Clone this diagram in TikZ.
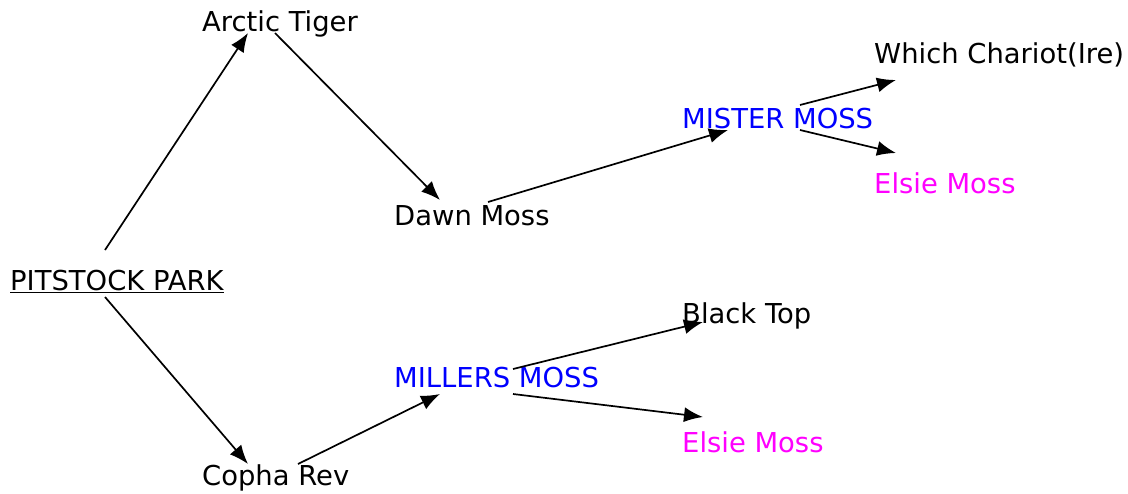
\documentclass[tikz,border=0pt]{standalone}
\usepackage{fontspec}
\setmainfont{DejaVu Sans}
\usepackage{tikz}
\usetikzlibrary{arrows.meta}
\definecolor{sireblue}{RGB}{0,0,255}
\definecolor{damred}{RGB}{255,0,255}

\begin{document}
\begin{tikzpicture}[
    x=1pt, y=-1pt,
    horse/.style={anchor=base west, inner sep=0pt, font=\fontsize{27.4}{31}\selectfont},
    sire/.style={horse, text=sireblue},
    dam/.style={horse, text=damred},
    pile/.style={line width=1.7pt, -{Latex[length=19pt,width=15pt]}}
    ]
    \useasboundingbox (0,0) rectangle (1128,493);

    \node[horse] (pp)  at (10,290)  {\underline{PITSTOCK PARK}};
    \node[horse] (at)  at (202,31)  {Arctic Tiger};
    \node[horse] (dm)  at (394,225) {Dawn Moss};
    \node[sire]  (ms)  at (682,128) {MISTER MOSS};
    \node[horse] (wc)  at (874,63)  {Which Chariot(Ire)};
    \node[dam]   (em1) at (874,193) {Elsie Moss};
    \node[horse] (cr)  at (202,485) {Copha Rev};
    \node[sire]  (mm)  at (394,387) {MILLERS MOSS};
    \node[horse] (bt)  at (682,323) {Black Top};
    \node[dam]   (em2) at (682,452) {Elsie Moss};

    \draw[pile] ([shift={(95,-40)}]pp.base west) -- ([shift={(46,2)}]at.base west);
    \draw[pile] ([shift={(73,2)}]at.base west) -- ([shift={(46,-25)}]dm.base west);
    \draw[pile] ([shift={(94,-23)}]dm.base west) -- ([shift={(46,2)}]ms.base west);
    \draw[pile] ([shift={(118,-23)}]ms.base west) -- ([shift={(22,17)}]wc.base west);
    \draw[pile] ([shift={(118,2)}]ms.base west) -- ([shift={(22,-40)}]em1.base west);

    \draw[pile] ([shift={(95,7)}]pp.base west) -- ([shift={(46,-21)}]cr.base west);
    \draw[pile] ([shift={(96,-21)}]cr.base west) -- ([shift={(46,7)}]mm.base west);
    \draw[pile] ([shift={(119,-18)}]mm.base west) -- ([shift={(21,-1)}]bt.base west);
    \draw[pile] ([shift={(119,7)}]mm.base west) -- ([shift={(21,-35)}]em2.base west);

\end{tikzpicture}
\end{document}
